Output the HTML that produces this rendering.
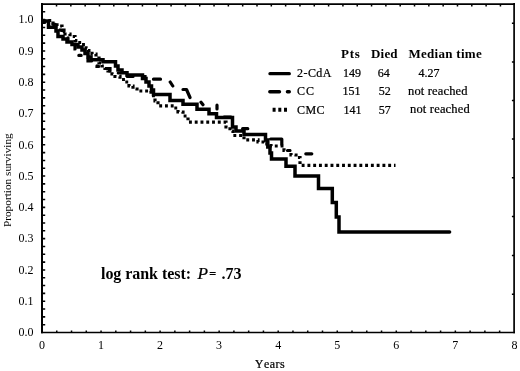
<!DOCTYPE html><html><head><meta charset="utf-8"><style>html,body{margin:0;padding:0;background:#fff;}svg{display:block;}text{font-family:"Liberation Serif","Times New Roman",serif;fill:#000;}.s{stroke:#000;stroke-width:0.22px;}</style></head><body>
<svg width="520" height="371" viewBox="0 0 520 371">
<rect width="520" height="371" fill="#fff"/>
<path d="M42,324.68h3.2 M42,316.86h3.2 M42,309.04h3.2 M42,301.21h3.2 M42,293.39h3.2 M42,285.57h3.2 M42,277.75h3.2 M42,269.93h3.2 M42,262.11h3.2 M42,254.28h3.2 M42,246.46h3.2 M42,238.64h3.2 M42,230.82h3.2 M42,223.00h3.2 M42,215.18h3.2 M42,207.36h3.2 M42,199.53h3.2 M42,191.71h3.2 M42,183.89h3.2 M42,176.07h3.2 M42,168.25h3.2 M42,160.43h3.2 M42,152.61h3.2 M42,144.78h3.2 M42,136.96h3.2 M42,129.14h3.2 M42,121.32h3.2 M42,113.50h3.2 M42,105.68h3.2 M42,97.85h3.2 M42,90.03h3.2 M42,82.21h3.2 M42,74.39h3.2 M42,66.57h3.2 M42,58.75h3.2 M42,50.93h3.2 M42,43.10h3.2 M42,35.28h3.2 M42,27.46h3.2 M42,19.64h3.2 M42,11.82h3.2" stroke="#000" stroke-width="1.6" fill="none"/>
<path d="M56.76,332.6v-2 M71.53,332.6v-2 M86.29,332.6v-2 M101.05,332.6v-2 M115.81,332.6v-2 M130.57,332.6v-2 M145.34,332.6v-2 M160.10,332.6v-2 M174.86,332.6v-2 M189.62,332.6v-2 M204.39,332.6v-2 M219.15,332.6v-2 M233.91,332.6v-2 M248.67,332.6v-2 M263.44,332.6v-2 M278.20,332.6v-2 M292.96,332.6v-2 M307.72,332.6v-2 M322.49,332.6v-2 M337.25,332.6v-2 M352.01,332.6v-2 M366.77,332.6v-2 M381.54,332.6v-2 M396.30,332.6v-2 M411.06,332.6v-2 M425.82,332.6v-2 M440.59,332.6v-2 M455.35,332.6v-2 M470.11,332.6v-2 M484.88,332.6v-2 M499.64,332.6v-2 M56.52,4v2.5 M70.84,4v2.5 M85.16,4v2.5 M99.48,4v2.5 M113.80,4v2.5 M128.12,4v2.5 M142.44,4v2.5 M156.76,4v2.5 M171.08,4v2.5 M185.40,4v2.5 M199.72,4v2.5 M214.04,4v2.5 M228.36,4v2.5 M242.68,4v2.5 M257.00,4v2.5 M271.32,4v2.5 M285.64,4v2.5 M299.96,4v2.5 M314.28,4v2.5 M328.60,4v2.5 M342.92,4v2.5 M357.24,4v2.5 M371.56,4v2.5 M385.88,4v2.5 M400.20,4v2.5 M414.52,4v2.5 M428.84,4v2.5 M443.16,4v2.5 M457.48,4v2.5 M471.80,4v2.5 M486.12,4v2.5 M500.44,4v2.5 M514,23.20h-2.1 M514,62.00h-2.1 M514,100.50h-2.1 M514,139.00h-2.1 M514,177.70h-2.1 M514,216.60h-2.1 M514,255.40h-2.1 M514,294.20h-2.1" stroke="#000" stroke-width="1.5" fill="none"/>
<path d="M42,3 V333.3" stroke="#000" stroke-width="2" fill="none"/>
<path d="M41,4.1 H515" stroke="#000" stroke-width="1.7" fill="none"/>
<path d="M514.1,3 V333.3" stroke="#000" stroke-width="1.7" fill="none"/>
<path d="M41,332.6 H515" stroke="#000" stroke-width="1.5" fill="none"/>
<path d="M42,20.5 H53 V23 H57 V26 H62 V30.5 H65 V34 H70 V36.5 H75 V40.5 H78 V42.5 H82 V44.5 H86 V48 H88 V50.5 H92 V54 H96 V58 H99 V63 H102 V66 H105 V68.5 H108 V71 H112 V74 H115 V76.5 H120 V79.5 H125 V82 H129 V86 H133 V89 H137 V91 H151 V95.7 H155 V101 H158 V105.8 H174 V108 H178 V112 H183 V116 H188 V122.2 H226 V127 H230 V131 H233 V135.5 H244 V139.9 H258 V142 H264 V144 H271 V146 H284 V150.5 H291 V155 H296 V157.5 H300 V165.3 H395.5" stroke="#000" stroke-width="3.2" fill="none" stroke-dasharray="2.9 2.87" stroke-dashoffset="5.21"/>
<path d="M43.6,22.4 H50 V24.3 H56 V27 H60 V30 H64 V35 H68 V40 H72 V44 H75 V49 H77 V55.4 H84 V58 H88 V61 H92 V64.5 H97 V66.4 H104 V68.5 H110 V71 H116 V73 H122 V75 H127 V76.5 H145 V78.8 H150" stroke="#000" stroke-width="3.2" fill="none" stroke-linecap="round" stroke-dasharray="5.8 10.2 2.3 10.2" stroke-dashoffset="4.75"/>
<path d="M153.5,79.2 H160.5 M170.2,82 L172.8,86 M183,89.5 H186.5 L190,97.5 M201,102.2 L203,104.8 M217,105.2 V109 M224,117 H231 M242.6,128.7 H247.8 M270.6,139 H281.8 V144.5 M287.5,150.5 H290 M305.8,153.8 H311.8" stroke="#000" stroke-width="3.2" fill="none" stroke-linecap="round" stroke-linejoin="round"/>
<path d="M43.7,21 H48.5 V27.3 H56 V31 H58 V36.5 H63 V39 H67 V42 H72 V44.5 H78 V47 H82 V50 H85 V53.5 H88 V57 H91 V59.7 H103 V61.8 H115.5 V66 H118 V70 H122 V72.8 H127 V75 H142.5 V78.5 H146 V82 H149 V86 H151.5 V90 H153.5 V94.5 H170 V100.4 H183 V104.3 H197 V109.3 H209 V113.8 H216.5 V117.5 H232.5 V127 H236 V131 H244 V134.5 H265.5 V140 H267.8 V147 H270 V153 H271.5 V159 H286 V166.3 H295 V176 H318.5 V188.5 H332.3 V202.5 H336.3 V217 H339 V231.9 H449.6" stroke="#000" stroke-width="3.5" fill="none" stroke-linejoin="miter" stroke-linecap="round"/>
<text x="33.6" y="336.3" font-size="12" text-anchor="end">0.0</text>
<text x="33.6" y="305.0" font-size="12" text-anchor="end">0.1</text>
<text x="33.6" y="273.7" font-size="12" text-anchor="end">0.2</text>
<text x="33.6" y="242.4" font-size="12" text-anchor="end">0.3</text>
<text x="33.6" y="211.2" font-size="12" text-anchor="end">0.4</text>
<text x="33.6" y="179.9" font-size="12" text-anchor="end">0.5</text>
<text x="33.6" y="148.6" font-size="12" text-anchor="end">0.6</text>
<text x="33.6" y="117.3" font-size="12" text-anchor="end">0.7</text>
<text x="33.6" y="86.0" font-size="12" text-anchor="end">0.8</text>
<text x="33.6" y="54.7" font-size="12" text-anchor="end">0.9</text>
<text x="33.6" y="23.4" font-size="12" text-anchor="end">1.0</text>
<text x="42.0" y="349" font-size="12" text-anchor="middle">0</text>
<text x="101.0" y="349" font-size="12" text-anchor="middle">1</text>
<text x="160.1" y="349" font-size="12" text-anchor="middle">2</text>
<text x="219.1" y="349" font-size="12" text-anchor="middle">3</text>
<text x="278.2" y="349" font-size="12" text-anchor="middle">4</text>
<text x="337.2" y="349" font-size="12" text-anchor="middle">5</text>
<text x="396.3" y="349" font-size="12" text-anchor="middle">6</text>
<text x="455.3" y="349" font-size="12" text-anchor="middle">7</text>
<text x="514.4" y="349" font-size="12" text-anchor="middle">8</text>
<text transform="translate(10.5,180.2) rotate(-90)" font-size="11.3" text-anchor="middle">Proportion surviving</text>
<path d="M270,73.7 H289.3" stroke="#000" stroke-width="3.3" fill="none" stroke-linecap="round"/>
<path d="M269.8,91.7 H279.5 M287.4,91.7 H289.3" stroke="#000" stroke-width="3.4" fill="none" stroke-linecap="round"/>
<path d="M272.6,107.8 h3v4h-3z M278.3,107.8 h3v4h-3z M284,107.8 h3v4h-3z" fill="#000"/>
<text x="341.00" y="57.8" font-size="13" font-weight="bold" textLength="18.74" lengthAdjust="spacing">Pts</text>
<text x="371.00" y="57.8" font-size="13" font-weight="bold" textLength="26.60" lengthAdjust="spacing">Died</text>
<text x="408.50" y="57.8" font-size="13" font-weight="bold" textLength="73.21" lengthAdjust="spacing">Median time</text>
<text x="297.00" y="76.9" font-size="12" class="s" textLength="34.47" lengthAdjust="spacing">2-CdA</text>
<text x="342.90" y="76.9" font-size="12" class="s">149</text>
<text x="377.80" y="76.9" font-size="12" class="s">64</text>
<text x="418.50" y="76.9" font-size="12" class="s">4.27</text>
<text x="297.00" y="95.3" font-size="12" class="s" textLength="17.02" lengthAdjust="spacing">CC</text>
<text x="342.40" y="95.3" font-size="12" class="s">151</text>
<text x="378.70" y="95.3" font-size="12" class="s">52</text>
<text x="408.00" y="95.2" font-size="12.5" class="s" textLength="59.55" lengthAdjust="spacing">not reached</text>
<text x="297.00" y="113.8" font-size="12" class="s" textLength="27.49" lengthAdjust="spacing">CMC</text>
<text x="343.40" y="113.8" font-size="12" class="s">141</text>
<text x="378.70" y="113.8" font-size="12" class="s">57</text>
<text x="410.00" y="113.4" font-size="12.5" class="s" textLength="59.75" lengthAdjust="spacing">not reached</text>
<text><tspan x="101.00" y="278.6" font-size="16" font-weight="bold" textLength="90.06" lengthAdjust="spacing">log rank test:</tspan> <tspan x="197.50" y="278.7" font-size="17.2" class="s" font-style="italic">P</tspan> <tspan x="209.00" y="278.2" font-size="13" font-weight="bold">=</tspan> <tspan x="221.50" y="278.6" font-size="16" font-weight="bold" textLength="20.00" lengthAdjust="spacing">.73</tspan></text>
<text><tspan x="255.00" y="368.1" font-size="11.5" class="s">Y</tspan><tspan x="264.00" y="368.1" font-size="12" class="s" textLength="20.73" lengthAdjust="spacing">ears</tspan></text>
</svg></body></html>
